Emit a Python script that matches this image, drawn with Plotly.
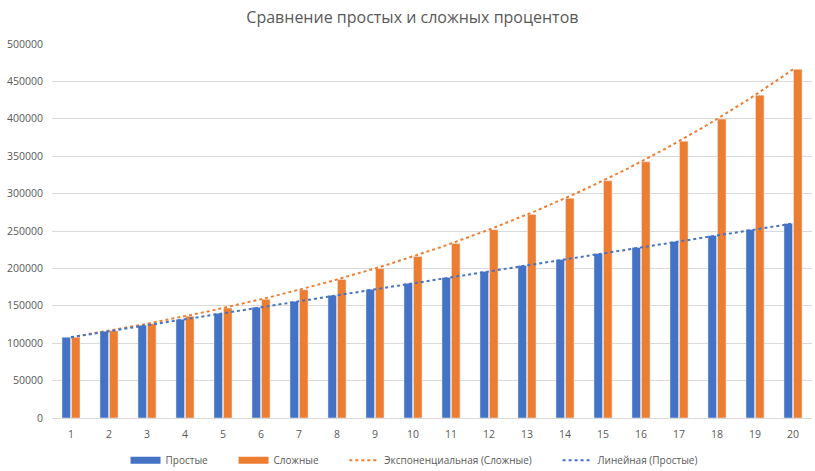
import numpy as np
import plotly.graph_objects as go

years = list(range(1, 21))
simple = [108000, 116000, 124000, 132000, 140000, 148000, 156000, 164000, 172000, 180000,
          188000, 196000, 204000, 212000, 220000, 228000, 236000, 244000, 252000, 260000]
compound = [108000, 116640, 125971, 136049, 146933, 158687, 171382, 185093, 199900, 215892,
            233164, 251817, 271962, 293719, 317217, 342594, 370002, 399602, 431570, 466096]

BLUE = "#4472C4"
ORANGE = "#ED7D31"
FONT = "Open Sans"
PAD = "\u00a0" * 8

xs = np.array(years, dtype=float)
xf = np.linspace(1, 20, 200)
# linear trend (simple)
a, b = np.polyfit(xs, np.array(simple, dtype=float), 1)
lin = a * xf + b
# exponential trend (compound)
k, c = np.polyfit(xs, np.log(np.array(compound, dtype=float)), 1)
expo = np.exp(c) * np.exp(k * xf)

fig = go.Figure()
fig.add_trace(go.Bar(x=years, y=simple, name="Простые", marker_color=BLUE, showlegend=False))
fig.add_trace(go.Bar(x=years, y=compound, name="Сложные", marker_color=ORANGE, showlegend=False))
# legend swatches for bars (wide rectangles like the original)
fig.add_trace(go.Scatter(x=[None], y=[None], mode="lines", name="Простые" + PAD,
                         line=dict(color=BLUE, width=7)))
fig.add_trace(go.Scatter(x=[None], y=[None], mode="lines", name="Сложные" + PAD,
                         line=dict(color=ORANGE, width=7)))
fig.add_trace(go.Scatter(x=xf, y=expo, mode="lines", name="Экспоненциальная (Сложные)" + PAD,
                         line=dict(color=ORANGE, dash="dot", width=2)))
fig.add_trace(go.Scatter(x=xf, y=lin, mode="lines", name="Линейная (Простые)",
                         line=dict(color=BLUE, dash="dot", width=2)))

fig.update_layout(
    width=815, height=471,
    paper_bgcolor="white", plot_bgcolor="white",
    margin=dict(l=52, r=3, t=44, b=53, autoexpand=False),
    title=dict(text="Сравнение простых и сложных процентов", x=0.506, xanchor="center",
               xref="container", y=0.962, yanchor="middle",
               font=dict(family=FONT, size=16, color="#595959")),
    barmode="group", bargap=0.5, bargroupgap=0.1,
    font=dict(family=FONT, size=10.5, color="#595959"),
    showlegend=True,
    legend=dict(orientation="h", x=0.508, xanchor="center", xref="container",
                y=0.023, yanchor="middle", yref="container",
                font=dict(family=FONT, size=10, color="#595959"),
                traceorder="normal"),
    xaxis=dict(range=[0.5, 20.5], tickmode="array", tickvals=years,
               ticktext=[str(v) for v in years], showgrid=False, zeroline=False,
               showline=True, linecolor="#D9D9D9", ticks="", automargin=False,
               ticklabelstandoff=6),
    yaxis=dict(range=[0, 500000], dtick=50000, tickformat="d", showgrid=True,
               gridcolor="#D9D9D9", zeroline=False, showline=False, ticks="",
               automargin=False, ticklabelstandoff=8),
)

fig.write_html("out.html", post_script="document.body.style.margin='0';",
               config={"displayModeBar": False})
